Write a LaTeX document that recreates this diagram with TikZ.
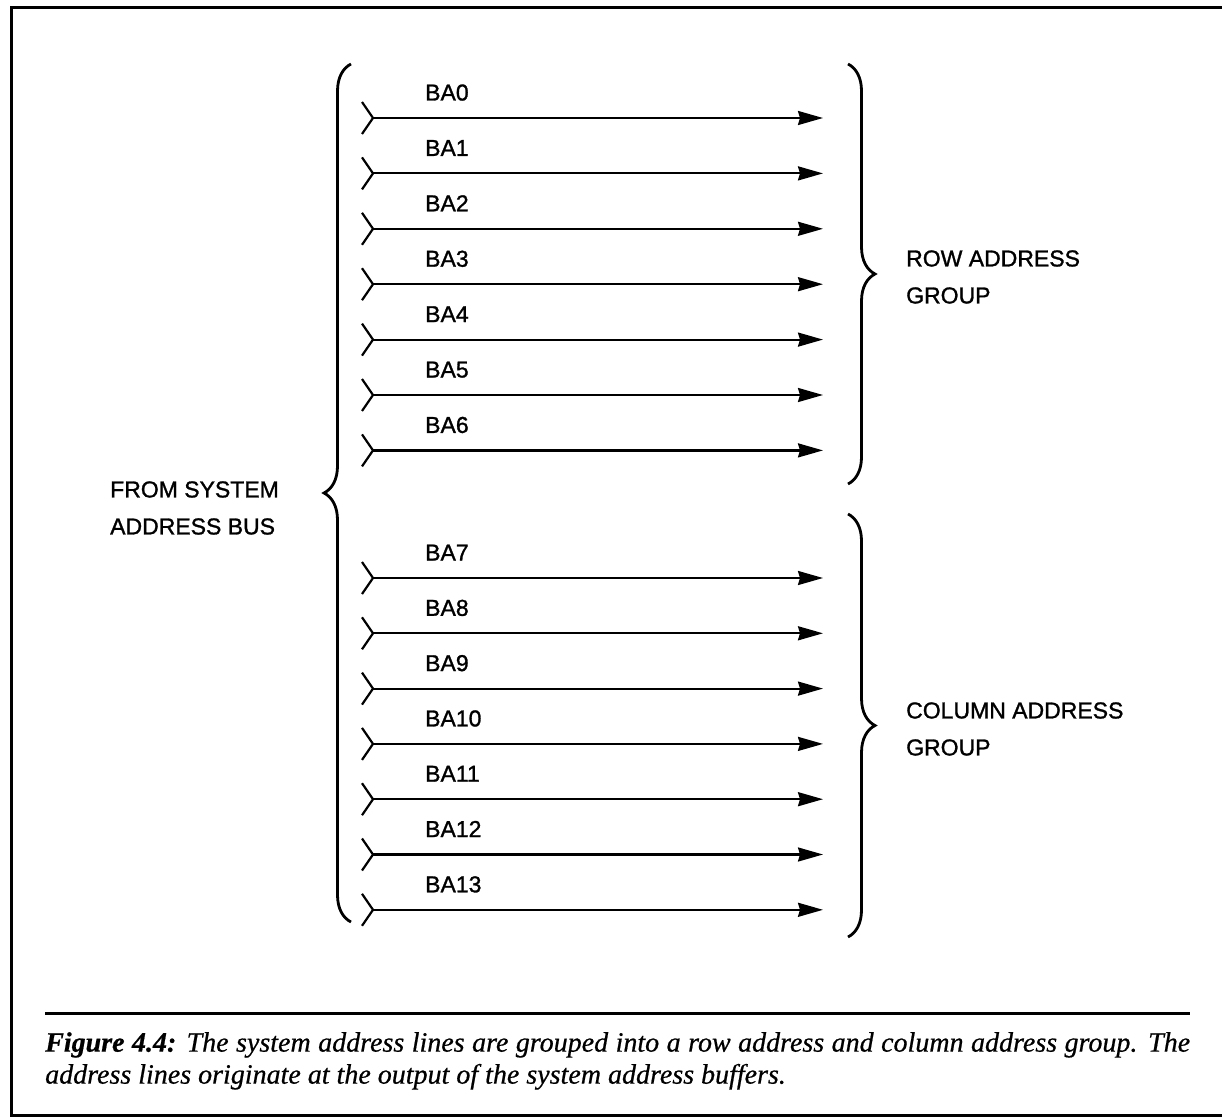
\documentclass[tikz,border=0pt]{standalone}
\usepackage{fontspec}
\setmainfont{Liberation Serif}
\setsansfont{Liberation Sans}
\newfontfamily\busfont{Liberation Sans}[FakeBold=1.2]
\newfontfamily\capfont{Liberation Serif}[FakeBold=0.6]
\usetikzlibrary{arrows.meta, positioning, calc, decorations.pathreplacing}

\begin{document}
\begin{tikzpicture}[
  x=1pt, y=-1pt,
  >=Stealth,
  font=\busfont\fontsize{23}{37}\selectfont,
  busline/.style={-{Stealth[length=25pt, width=14pt, inset=2pt]}, line width=2.2pt},
  chevron/.style={line width=2.2pt},
  groupbrace/.style={decorate, decoration={brace, amplitude=27pt}, line width=2.8pt},
  lbl/.style={inner sep=0pt, anchor=base west},
  grouptext/.style={align=left, inner sep=0pt, anchor=west},
  framerule/.style={line width=3pt},
  caption/.style={inner sep=0pt, anchor=north west, text width=1145pt, align=justify,
                  font=\capfont\itshape\fontsize{28}{32}\selectfont}
]
\useasboundingbox (0,0) rectangle (1222,1118);
\draw[framerule] (1222,8) -| (11,1115) -- (1222,1115);

\foreach \i in {0,...,13}{
  \pgfmathsetmacro{\yy}{\i<7 ? 118+55.4*\i : 578+55.3*(\i-7)}
  \coordinate (s\i) at (373,\yy);
  \coordinate (e\i) at (823,\yy);
  \node[lbl] (ba\i) at (425,\yy-17.5) {BA\i};
  \draw[chevron] ($(s\i)+(-11,-16)$) -- (s\i) -- ($(s\i)+(-11,16)$);
  \draw[busline] (s\i) -- (e\i);
}

\draw[groupbrace] (351,922) -- (351,64);
\draw[groupbrace] (848,64) -- (848,484);
\draw[groupbrace] (848,514) -- (848,937);

\node[grouptext] (bus) at (110,508) {FROM SYSTEM\\ADDRESS BUS};
\node[grouptext] (rowgrp) at (906,277) {ROW ADDRESS\\GROUP};
\node[grouptext] (colgrp) at (906,729) {COLUMN ADDRESS\\GROUP};

\draw[framerule] (45,1013) -- (1190,1013);
\node[caption] (cap) at (45,1032) {\textbf{Figure 4.4:} The system address lines are grouped into a row address and column address group. The\linebreak address lines originate at the output of the system address buffers.};

\end{tikzpicture}
\end{document}
